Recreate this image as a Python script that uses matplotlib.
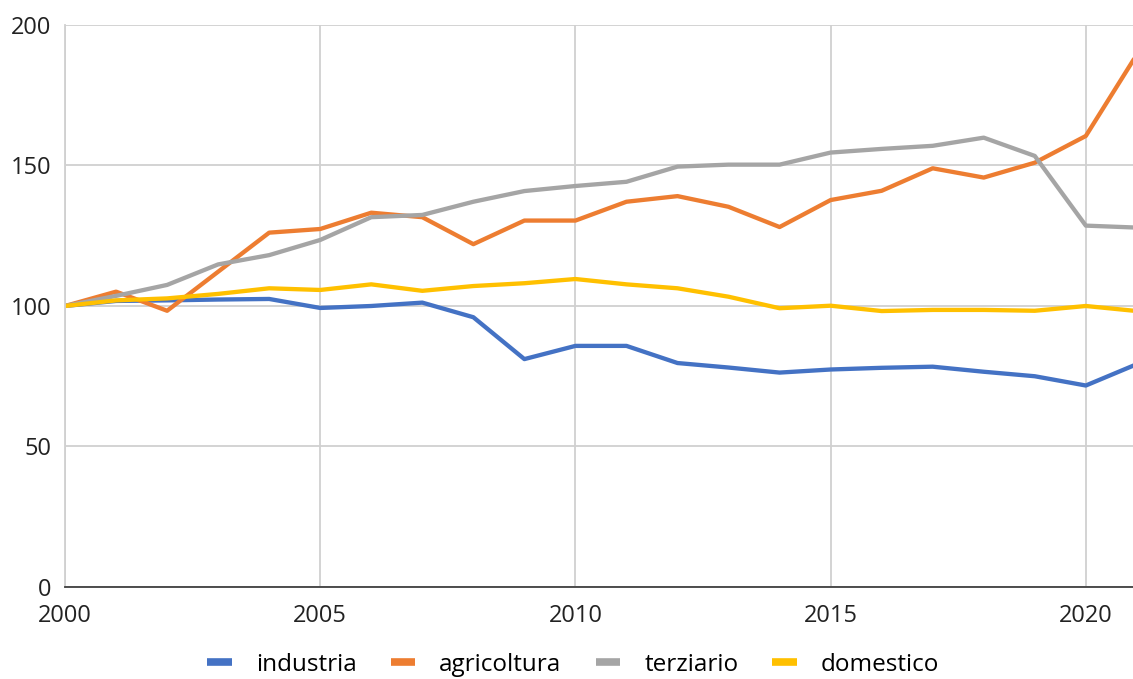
import matplotlib.pyplot as plt
from matplotlib.lines import Line2D

plt.rcParams['font.family'] = ['Open Sans', 'DejaVu Sans']

years = list(range(2000, 2022))
industria = [100, 101.8, 102.0, 102.3, 102.5, 99.3, 100.0, 101.2, 96.0, 81.1, 85.8,
             85.8, 79.7, 78.1, 76.3, 77.4, 78.0, 78.4, 76.6, 75.0, 71.7, 79.3]
agricoltura = [100, 105.1, 98.3, 112.2, 126.1, 127.4, 133.2, 131.6, 122.0, 130.4, 130.4,
               137.1, 139.1, 135.3, 128.1, 137.7, 141.0, 149.0, 145.7, 151.0, 160.5, 189.5]
terziario = [100, 103.6, 107.5, 114.8, 118.1, 123.5, 131.6, 132.4, 137.1, 140.9, 142.7,
             144.2, 149.6, 150.3, 150.3, 154.6, 155.9, 157.0, 159.9, 153.4, 128.6, 127.9]
domestico = [100, 102.0, 102.7, 104.3, 106.3, 105.7, 107.7, 105.4, 107.1, 108.1, 109.6,
             107.7, 106.3, 103.3, 99.2, 100.1, 98.2, 98.6, 98.6, 98.3, 100.0, 98.2]

series = [
    ('industria', industria, '#4472C4'),
    ('agricoltura', agricoltura, '#ED7D31'),
    ('terziario', terziario, '#A5A5A5'),
    ('domestico', domestico, '#FFC000'),
]

fig = plt.figure(figsize=(11.33, 6.79), dpi=100)
ax = fig.add_axes([0.0574, 0.1355, 0.946, 0.8277])

for name, vals, color in series:
    ax.plot(years, vals, color=color, lw=3.1, label=name, solid_capstyle='round',
            solid_joinstyle='round')

ax.set_xlim(2000, 2021)
ax.set_ylim(0, 200)
ax.set_xticks([2000, 2005, 2010, 2015, 2020])
ax.set_yticks([0, 50, 100, 150, 200])
ax.grid(True, color='#d0d0d0', lw=1.3)
ax.set_axisbelow(True)
ax.tick_params(length=0, labelsize=17, colors='#222222')
ax.tick_params(axis='x', pad=12)
ax.tick_params(axis='y', pad=10)
for side in ('top', 'right'):
    ax.spines[side].set_visible(False)
ax.spines['left'].set_color('#d0d0d0')
ax.spines['left'].set_linewidth(1.3)
ax.spines['bottom'].set_color('#404040')
ax.spines['bottom'].set_linewidth(1.3)

handles = [Line2D([], [], color=c, lw=5.5, solid_capstyle='butt') for _, _, c in series]
fig.legend(handles, [n for n, _, _ in series], loc='center', ncol=4,
           bbox_to_anchor=(0.506, 0.021), frameon=False, fontsize=17.5,
           handlelength=1.0, columnspacing=1.4, handletextpad=1.0)

fig.savefig('out.png', dpi=100)
